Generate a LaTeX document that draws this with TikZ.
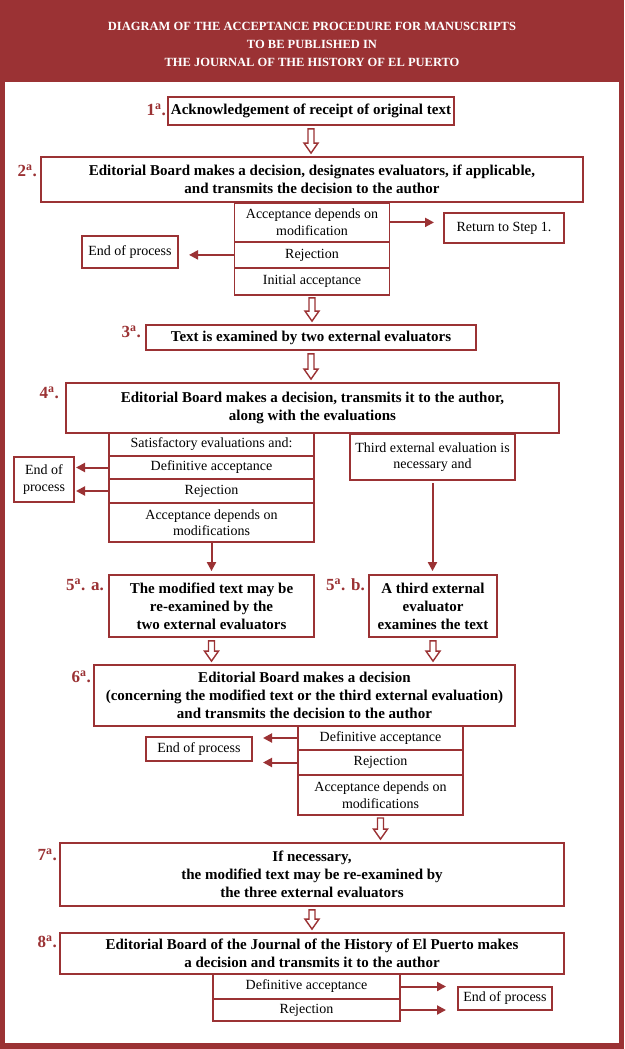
\documentclass[tikz,border=0pt]{standalone}
\usepackage{fontspec}
\setmainfont{Liberation Serif}
\usepackage{tikz}
\usetikzlibrary{positioning}
\usetikzlibrary{arrows.meta}
\usetikzlibrary{calc}
\definecolor{brick}{RGB}{155,50,52}
\tikzset {
  % boxes of the steps
  main/.style = {draw=brick, line width=1.8pt, fill=white, align=center, inner sep=1pt,
    font=\bfseries\fontsize{15}{18}\selectfont},
  % options under a decision, and end boxes
  opt/.style = {draw=brick, line width=1.8pt, fill=white, align=center, inner sep=1pt, outer sep=0pt,
    font=\fontsize{14}{16.5}\selectfont},
  % step numbers
  num/.style = {text=brick, anchor=east, inner sep=0pt, font=\bfseries\fontsize{17}{17}\selectfont},
  % thin red arrows
  link/.style = {draw=brick, line width=2pt, -{Triangle[length=9pt,width=9pt]}},
  % hollow arrows from step to step
  hollow/.style = {draw=brick, line width=1.4pt, fill=white,
    to path={let \p1=(\tikztostart), \p2=(\tikztotarget) in
      (\x1-3pt,\y1-3pt) -- (\x1-3pt,\y2+13pt) -- (\x1-7pt,\y2+13pt) -- (\x1,\y2+3pt)
      -- (\x1+7pt,\y2+13pt) -- (\x1+3pt,\y2+13pt) -- (\x1+3pt,\y1-3pt) -- cycle}},
}

\begin{document}
\begin{tikzpicture}[x=1pt, y=-1pt]
  \useasboundingbox (0,0) rectangle (624,1049);
  \fill[brick] (0,0) rectangle (624,1049);
  \fill[white] (5,82) rectangle (619,1043);
  \node[text=white, align=center, font=\bfseries\fontsize{12.5}{18}\selectfont] (title) at (312,44)
    {DIAGRAM OF THE ACCEPTANCE PROCEDURE FOR MANUSCRIPTS\\TO BE PUBLISHED IN\\THE JOURNAL OF THE HISTORY OF EL PUERTO};

  % steps 1 and 2
  \node[main, minimum width=286pt, minimum height=28pt] (1) at (311,111) {Acknowledgement of receipt of original text};
  \node[main, minimum width=542pt, minimum height=45pt] (2) at (312,179.5)
    {Editorial Board makes a decision, designates evaluators, if applicable,\\and transmits the decision to the author};
  \node[opt, minimum width=155pt, minimum height=39pt] (2a) [below=0pt of 2] {Acceptance depends on\\modification};
  \node[opt, minimum width=155pt, minimum height=26pt] (2b) [below=0pt of 2a] {Rejection};
  \node[opt, minimum width=155pt, minimum height=27pt] (2c) [below=0pt of 2b] {Initial acceptance};
  \node[opt, minimum width=120pt, minimum height=30pt] (back) at (504,228) {Return to Step 1.};
  \node[opt, minimum width=96pt, minimum height=32pt] (end2) at (130,252) {End of process};
  \node[num] (l1) at (166,110) {1\textsuperscript{a}.};
  \node[num] (l2) at (37,171) {2\textsuperscript{a}.};

  \draw[hollow] (1.south) to (1.south |- 2.north);
  \draw[link, shorten >=10pt] (2a.east) -- (2a.east -| back.west);
  \draw[link, shorten >=11pt] (2b.west) -- (2b.west -| end2.east);

  % steps 3 and 4
  \node[main, minimum width=330pt, minimum height=25pt] (3) at (311,337.5) {Text is examined by two external evaluators};
  \node[main, minimum width=493pt, minimum height=50pt] (4) at (312.5,408)
    {Editorial Board makes a decision, transmits it to the author,\\along with the evaluations};
  \node[opt, minimum width=205pt, minimum height=23pt, anchor=north] (4a) at (211.5,433) {Satisfactory evaluations and:};
  \node[opt, minimum width=205pt, minimum height=23pt] (4b) [below=0pt of 4a] {Definitive acceptance};
  \node[opt, minimum width=205pt, minimum height=24pt] (4c) [below=0pt of 4b] {Rejection};
  \node[opt, minimum width=205pt, minimum height=39pt] (4d) [below=0pt of 4c] {Acceptance depends on\\modifications};
  \node[opt, minimum width=165pt, minimum height=46pt, anchor=north] (4e) at (432.5,434) {Third external evaluation is\\necessary and};
  \node[opt, minimum width=60pt, minimum height=45pt] (end4) at (44,479.5) {End of\\process};
  \node[num] (l3) at (141,332) {3\textsuperscript{a}.};
  \node[num] (l4) at (59,393) {4\textsuperscript{a}.};

  \draw[hollow] (2c.south) to (2c.south |- 3.north);
  \draw[hollow] (3.south) to (3.south |- 4.north);
  \draw[link, shorten >=2pt] (4b.west) -- (4b.west -| end4.east);
  \draw[link, shorten >=2pt] (4c.west) -- (4c.west -| end4.east);

  % step 5
  \node[main, minimum width=205pt, minimum height=62pt] (5a) at (211.5,606)
    {The modified text may be\\re-examined by the\\two external evaluators};
  \node[main, minimum width=128pt, minimum height=62pt] (5b) at (433,606)
    {A third external\\evaluator\\examines the text};
  \node[num] (l5a) at (104,585) {5\textsuperscript{a}. a.};
  \node[num] (l5b) at (365,585) {5\textsuperscript{a}. b.};

  \draw[link, shorten >=3pt] (4d.south) -- (4d.south |- 5a.north);
  \draw[link, shorten <=3pt, shorten >=3pt] (4e.south) -- (4e.south |- 5b.north);

  % step 6
  \node[main, minimum width=421pt, minimum height=61pt] (6) at (304.5,695.5)
    {Editorial Board makes a decision\\(concerning the modified text or the third external evaluation)\\and transmits the decision to the author};
  \node[opt, minimum width=165pt, minimum height=24pt, anchor=north] (6a) at (380.5,726) {Definitive acceptance};
  \node[opt, minimum width=165pt, minimum height=25pt] (6b) [below=0pt of 6a] {Rejection};
  \node[opt, minimum width=165pt, minimum height=40pt] (6c) [below=0pt of 6b] {Acceptance depends on\\modifications};
  \node[opt, minimum width=106pt, minimum height=24pt] (end6) at (199,749) {End of process};
  \node[num] (l6) at (91,677) {6\textsuperscript{a}.};

  \draw[hollow] (5a.south) to (5a.south |- 6.north);
  \draw[hollow] (5b.south) to (5b.south |- 6.north);
  \draw[link, shorten >=11pt] (6a.west) -- (6a.west -| end6.east);
  \draw[link, shorten >=11pt] (6b.west) -- (6b.west -| end6.east);

  % steps 7 and 8
  \node[main, minimum width=504pt, minimum height=63pt] (7) at (312,874.5)
    {If necessary,\\the modified text may be re-examined by\\the three external evaluators};
  \node[main, minimum width=504pt, minimum height=41pt] (8) at (312,953.5)
    {Editorial Board of the Journal of the History of El Puerto makes\\a decision and transmits it to the author};
  \node[opt, minimum width=187pt, minimum height=25pt, anchor=north] (8a) at (306.5,974) {Definitive acceptance};
  \node[opt, minimum width=187pt, minimum height=22pt] (8b) [below=0pt of 8a] {Rejection};
  \node[opt, minimum width=94pt, minimum height=23pt] (end8) at (505,998.5) {End of process};
  \node[num] (l7) at (57,855) {7\textsuperscript{a}.};
  \node[num] (l8) at (57,942) {8\textsuperscript{a}.};

  \draw[hollow] (6c.south) to (6c.south |- 7.north);
  \draw[hollow] (7.south) to (7.south |- 8.north);
  \draw[link, shorten >=12pt] (8a.east) -- (8a.east -| end8.west);
  \draw[link, shorten >=12pt] (8b.east) -- (8b.east -| end8.west);
\end{tikzpicture}
\end{document}
